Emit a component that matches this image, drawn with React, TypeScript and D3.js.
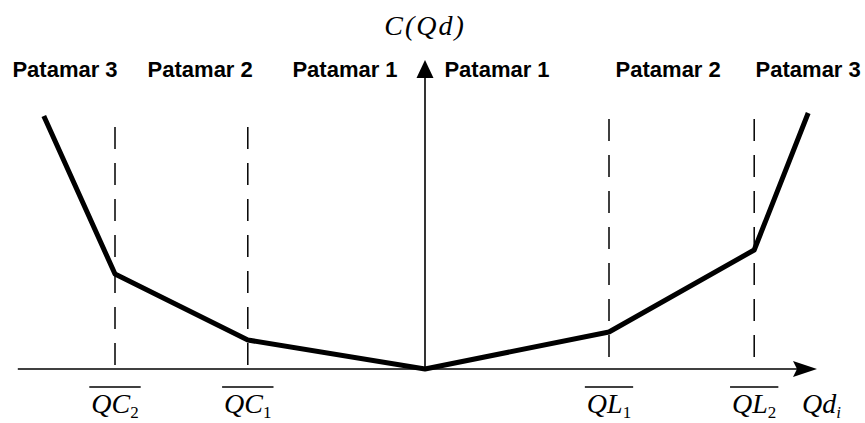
import { useRef, useEffect, RefObject } from 'react';
import * as d3 from 'd3';

// piecewise-linear cost curve C(Qd), in arbitrary units
const curveX: number[] = [-9.53, -7.75, -4.43, 0, 4.6, 8.23, 9.58];
const curveY: number[] = [10.12, 3.8, 1.16, 0, 1.48, 4.76, 10.24];

// limits between levels (patamares)
const limitX: number[] = [-7.75, -4.43, 4.6, 8.23];
const limitTop: number[] = [9.68, 9.68, 10.0, 10.0];
const limitName: string[] = ['QC', 'QC', 'QL', 'QL'];
const limitSub: string[] = ['2', '1', '1', '2'];

// level labels
const levelLabels: string[] = ['Patamar 3', 'Patamar 2', 'Patamar 1', 'Patamar 1', 'Patamar 2', 'Patamar 3'];
const levelX: number[] = [-9, -5.62, -2, 1.8, 6.08, 9.58];

const xExtent: number[] = [-10.18, 9.8];
const yTop: number = 12.36;

const App = () => {
  const svgRef: RefObject<SVGSVGElement> = useRef(null);

  useEffect(() => {
    const width = 865;
    const height = 423;
    const x = d3.scaleLinear().domain([-10, 10]).range([25, 825]);
    const y = d3.scaleLinear().domain([0, 10]).range([369, 119]);

    const svg = d3.select(svgRef.current);
    svg.selectAll('*').remove();
    svg.attr('width', width).attr('height', height);

    svg.append('rect').attr('width', width).attr('height', height).attr('fill', '#fff');

    // dashed limit lines
    svg
      .append('g')
      .attr('stroke', '#000')
      .attr('stroke-width', 1.5)
      .attr('stroke-dasharray', '22,14')
      .selectAll('line')
      .data(limitX)
      .join('line')
      .attr('x1', (d) => x(d))
      .attr('x2', (d) => x(d))
      .attr('y1', (d, i) => y(limitTop[i]))
      .attr('y2', y(0));

    // axes
    const axes = svg.append('g').attr('stroke', '#000').attr('stroke-width', 1.6);
    axes.append('line').attr('x1', x(xExtent[0])).attr('x2', x(xExtent[1]) - 12).attr('y1', y(0)).attr('y2', y(0));
    axes.append('line').attr('x1', x(0)).attr('x2', x(0)).attr('y1', y(0)).attr('y2', y(yTop) + 12);

    const tipX = x(xExtent[1]);
    const tipY = y(yTop);
    svg
      .append('path')
      .attr('d', `M${tipX},${y(0)} L${tipX - 24},${y(0) - 8} L${tipX - 20},${y(0)} L${tipX - 24},${y(0) + 8} Z`)
      .attr('fill', '#000');
    svg
      .append('path')
      .attr('d', `M${x(0)},${tipY} L${x(0) - 8.5},${tipY + 18} L${x(0) + 8.5},${tipY + 18} Z`)
      .attr('fill', '#000');

    // cost curve
    const line = d3
      .line<number>()
      .x((d) => x(d))
      .y((d, i) => y(curveY[i]));
    svg
      .append('path')
      .attr('d', line(curveX))
      .attr('fill', 'none')
      .attr('stroke', '#000')
      .attr('stroke-width', 5)
      .attr('stroke-linejoin', 'round');

    // level labels
    svg
      .append('g')
      .attr('font-family', '"Liberation Sans", Arial, sans-serif')
      .attr('font-weight', 'bold')
      .attr('font-size', 22)
      .attr('text-anchor', 'middle')
      .selectAll('text')
      .data(levelLabels)
      .join('text')
      .attr('x', (d, i) => x(levelX[i]))
      .attr('y', 77)
      .text((d) => d);

    // limit labels with overline
    const math = svg
      .append('g')
      .attr('font-family', '"Liberation Serif", "Times New Roman", serif')
      .attr('font-style', 'italic')
      .attr('font-size', 28);

    limitX.forEach((v, i) => {
      const t = math.append('text').attr('x', x(v)).attr('y', 413).attr('text-anchor', 'middle');
      t.append('tspan').text(limitName[i]);
      t.append('tspan').attr('font-style', 'normal').attr('font-size', 17).attr('dy', 5).text(limitSub[i]);
      const bb = (t.node() as SVGTextElement).getBBox();
      math
        .append('line')
        .attr('x1', bb.x - 2)
        .attr('x2', bb.x + bb.width + 2)
        .attr('y1', 387)
        .attr('y2', 387)
        .attr('stroke', '#000')
        .attr('stroke-width', 1.5);
    });

    const qd = math.append('text').attr('x', tipX - 15).attr('y', 413);
    qd.append('tspan').text('Qd');
    qd.append('tspan').attr('font-size', 17).attr('dy', 5).text('i');

    math
      .append('text')
      .attr('x', x(0))
      .attr('y', 35)
      .attr('text-anchor', 'middle')
      .attr('letter-spacing', 2)
      .text('C(Qd)');
  }, []);

  return (
    <div style={{ position: 'absolute', left: 0, top: 0 }}>
      <svg ref={svgRef} style={{ display: 'block' }}></svg>
    </div>
  );
};

export default App;
